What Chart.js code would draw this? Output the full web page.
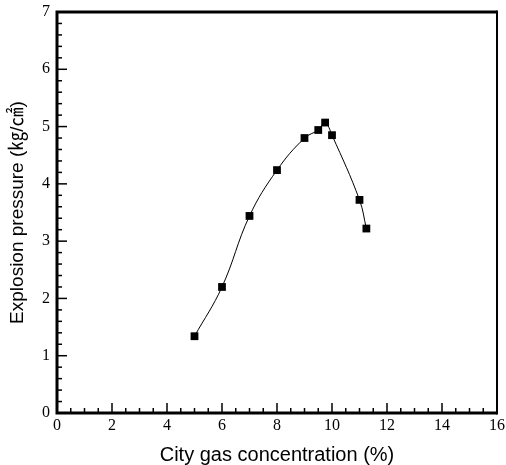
<!DOCTYPE html>
<html>
<head>
<meta charset="utf-8">
<script src="https://cdn.jsdelivr.net/npm/chart.js@4/dist/chart.umd.min.js"></script>
<style>
  html, body { margin: 0; padding: 0; background: #fff; }
  #wrap { width: 506px; height: 465px; }
</style>
</head>
<body>
<div id="wrap"><canvas id="chart" width="506" height="465"></canvas></div>
<script>
// city gas concentration (%) and explosion pressure (kg/cm2)
const concentration = [5, 6, 7, 8, 9, 9.5, 9.75, 10, 11, 11.25];
const pressure = [1.34, 2.2, 3.44, 4.24, 4.8, 4.94, 5.07, 4.85, 3.72, 3.22];
const xTicks = [0, 2, 4, 6, 8, 10, 12, 14, 16];
const yTicks = [0, 1, 2, 3, 4, 5, 6, 7];

const points = concentration.map((c, i) => ({ x: c, y: pressure[i] }));

// frame and inward tick marks
const frameTicks = {
  id: "frameTicks",
  afterDatasetsDraw(chart) {
    const { ctx, chartArea: a, scales } = chart;
    ctx.save();
    ctx.strokeStyle = "#000";
    ctx.lineCap = "butt";

    ctx.lineWidth = 1.5;
    for (let v = 0; v <= 16; v += 0.5) {
      const px = scales.x.getPixelForValue(v);
      const len = v % 2 === 0 ? 10 : 5;
      ctx.beginPath();
      ctx.moveTo(px, a.bottom);
      ctx.lineTo(px, a.bottom - len);
      ctx.stroke();
    }
    for (let i = 0; i <= 35; i++) {
      const v = i * 0.2;
      const py = scales.y.getPixelForValue(v);
      const len = i % 5 === 0 ? 10 : 5;
      ctx.beginPath();
      ctx.moveTo(a.left, py);
      ctx.lineTo(a.left + len, py);
      ctx.stroke();
    }

    ctx.lineWidth = 3;
    ctx.beginPath();
    ctx.moveTo(a.left, a.top);
    ctx.lineTo(a.left, a.bottom);
    ctx.lineTo(a.right, a.bottom);
    ctx.moveTo(a.left - 1.5, a.top);
    ctx.lineTo(a.right, a.top);
    ctx.stroke();
    ctx.lineWidth = 2;
    ctx.beginPath();
    ctx.moveTo(a.right, a.top - 1.5);
    ctx.lineTo(a.right, a.bottom + 1.5);
    ctx.stroke();
    ctx.restore();
  }
};

new Chart(document.getElementById("chart"), {
  type: "scatter",
  data: {
    datasets: [{
      data: points,
      showLine: true,
      tension: 0.4,
      borderColor: "#000",
      borderWidth: 1,
      pointStyle: "rect",
      pointRadius: 5.5,
      pointBackgroundColor: "#000",
      pointBorderWidth: 0
    }]
  },
  options: {
    responsive: false,
    animation: false,
    layout: { padding: { top: 12, right: 9, left: 0, bottom: 0 } },
    plugins: {
      legend: { display: false },
      tooltip: { enabled: false }
    },
    scales: {
      x: {
        type: "linear",
        min: 0,
        max: 16,
        afterBuildTicks(scale) { scale.ticks = xTicks.map(v => ({ value: v })); },
        afterFit(scale) {
          scale.height = 52;
          scale.paddingLeft = 0;
          scale.paddingRight = 0;
        },
        grid: { display: false, drawTicks: false },
        border: { display: false },
        ticks: {
          padding: 3,
          color: "#000",
          font: { family: "'Liberation Serif', 'Times New Roman', serif", size: 16 }
        },
        title: {
          display: true,
          text: "City gas concentration (%)",
          color: "#000",
          padding: { top: 0, bottom: -2 },
          font: { family: "'Liberation Sans', Arial, sans-serif", size: 20 }
        }
      },
      y: {
        type: "linear",
        min: 0,
        max: 7,
        afterBuildTicks(scale) { scale.ticks = yTicks.map(v => ({ value: v })); },
        afterFit(scale) {
          scale.width = 57;
          scale.paddingTop = 0;
          scale.paddingBottom = 0;
        },
        grid: { display: false, drawTicks: false },
        border: { display: false },
        ticks: {
          padding: 7,
          color: "#000",
          font: { family: "'Liberation Serif', 'Times New Roman', serif", size: 16 }
        },
        title: {
          display: true,
          text: "Explosion pressure (㎏/㎠)",
          color: "#000",
          padding: { top: 6, bottom: 0 },
          font: { family: "'Liberation Sans', Arial, 'Noto Sans CJK KR', sans-serif", size: 19 }
        }
      }
    }
  },
  plugins: [frameTicks]
});
</script>
</body>
</html>
